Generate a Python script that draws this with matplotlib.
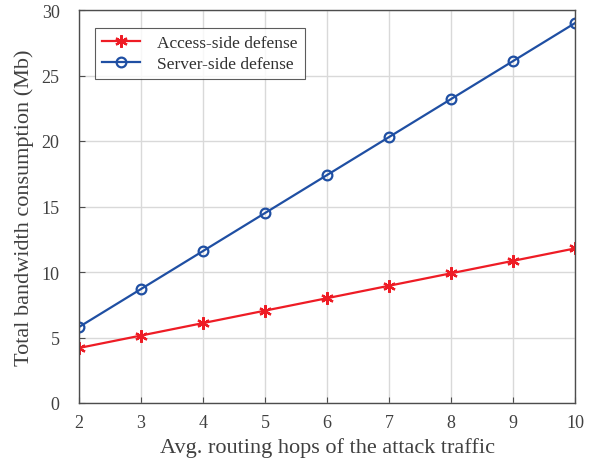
import matplotlib.pyplot as plt
import numpy as np

plt.rcParams['font.family'] = ['Liberation Serif', 'DejaVu Serif']

hops = [2, 3, 4, 5, 6, 7, 8, 9, 10]
access_side = [4.2, 5.15, 6.1, 7.05, 8.0, 8.95, 9.9, 10.85, 11.8]
server_side = [5.8, 8.7, 11.6, 14.5, 17.4, 20.3, 23.2, 26.1, 29.0]

fig = plt.figure(figsize=(5.98, 4.6), dpi=100)
ax = fig.add_axes([79 / 598, 56 / 460, 496 / 598, 393 / 460])

ax.plot(hops, access_side, color="#ee1c25", linewidth=1.6, marker=(6, 2, 0),
        markersize=9, markeredgewidth=1.6, label="Access-side defense")
ax.plot(hops, server_side, color="#1f4fa3", linewidth=1.6, marker="o",
        markersize=7, markerfacecolor="none", markeredgewidth=1.6,
        label="Server-side defense")

ax.set_xlim(2, 10)
ax.set_ylim(0, 30)
ax.set_xticks(hops)
ax.set_yticks(np.arange(0, 31, 5))
ax.grid(True, color="#d9d9d9", linewidth=1.0)
ax.set_axisbelow(True)

for side in ax.spines.values():
    side.set_color("#4d4d4d")
    side.set_linewidth(1.0)
ax.tick_params(direction="in", length=4, colors="#4d4d4d", labelsize=13,
               labelcolor="#404040")
ax.tick_params(axis="x", pad=8)
ax.tick_params(axis="y", pad=14)

ax.set_xlabel("Avg. routing hops of the attack traffic", fontsize=16,
              color="#404040", labelpad=4)
ax.set_ylabel("Total bandwidth consumption (Mb)", fontsize=16,
              color="#404040", labelpad=5)

leg = ax.legend(loc="upper left", bbox_to_anchor=(0.032, 0.955), fontsize=12.5,
                frameon=True, fancybox=False, edgecolor="#333333",
                handlelength=2.2, handletextpad=1.0, borderpad=0.4,
                labelspacing=0.3, borderaxespad=0)
leg.get_frame().set_linewidth(0.8)
for t in leg.get_texts():
    t.set_color("#303030")

fig.savefig("out.png", dpi=100)
